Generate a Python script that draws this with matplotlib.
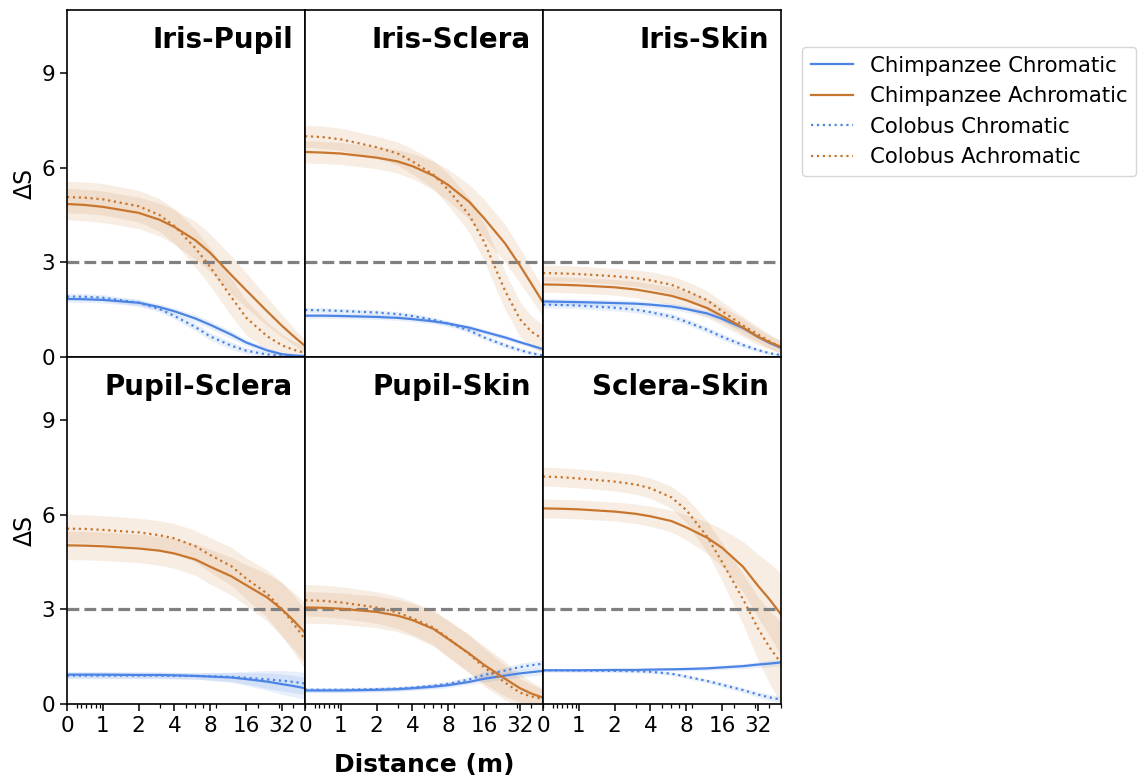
import matplotlib
matplotlib.use("Agg")
import matplotlib.pyplot as plt
from matplotlib.ticker import FixedLocator, FixedFormatter
import numpy as np

distance = [0, 0.5, 1, 2, 3, 4, 6, 8, 12, 16, 24, 32, 40, 50]

panel_names = ["Iris-Pupil", "Iris-Sclera", "Iris-Skin",
               "Pupil-Sclera", "Pupil-Skin", "Sclera-Skin"]

# Iris-Pupil
ip_chimp_chr = [1.84, 1.83, 1.81, 1.72, 1.58, 1.45, 1.22, 1.02, 0.71, 0.46, 0.21, 0.09, 0.05, 0.03]
ip_chimp_ach = [4.85, 4.82, 4.76, 4.57, 4.35, 4.12, 3.70, 3.30, 2.60, 2.12, 1.45, 0.99, 0.66, 0.35]
ip_colob_chr = [1.92, 1.91, 1.88, 1.72, 1.52, 1.30, 0.95, 0.65, 0.36, 0.20, 0.08, 0.04, 0.02, 0.01]
ip_colob_ach = [5.07, 5.05, 5.00, 4.78, 4.50, 4.15, 3.45, 2.85, 1.90, 1.25, 0.66, 0.37, 0.23, 0.13]
ip_hw_chr = [0.10, 0.10, 0.10, 0.10, 0.10, 0.10, 0.12, 0.12, 0.12, 0.10, 0.08, 0.05, 0.04, 0.03]
ip_hw_ach = [0.50, 0.50, 0.50, 0.50, 0.52, 0.55, 0.60, 0.60, 0.60, 0.55, 0.45, 0.35, 0.27, 0.20]

# Iris-Sclera
is_chimp_chr = [1.31, 1.31, 1.30, 1.27, 1.24, 1.20, 1.13, 1.06, 0.93, 0.80, 0.62, 0.47, 0.36, 0.25]
is_chimp_ach = [6.50, 6.48, 6.45, 6.32, 6.20, 6.05, 5.75, 5.45, 4.92, 4.40, 3.60, 2.90, 2.32, 1.73]
is_colob_chr = [1.49, 1.48, 1.46, 1.41, 1.36, 1.30, 1.18, 1.06, 0.84, 0.62, 0.37, 0.22, 0.12, 0.05]
is_colob_ach = [7.00, 6.97, 6.90, 6.65, 6.45, 6.20, 5.78, 5.30, 4.50, 3.65, 2.10, 1.20, 0.80, 0.57]
is_hw_chr = [0.08, 0.08, 0.08, 0.08, 0.08, 0.08, 0.08, 0.08, 0.08, 0.08, 0.08, 0.07, 0.06, 0.05]
is_hw_ach = [0.35, 0.35, 0.35, 0.35, 0.37, 0.40, 0.45, 0.50, 0.55, 0.60, 0.60, 0.55, 0.50, 0.45]

# Iris-Skin
ik_chimp_chr = [1.76, 1.75, 1.74, 1.71, 1.69, 1.66, 1.60, 1.52, 1.38, 1.21, 0.92, 0.64, 0.45, 0.29]
ik_chimp_ach = [2.30, 2.29, 2.27, 2.21, 2.14, 2.06, 1.94, 1.80, 1.55, 1.30, 0.93, 0.64, 0.47, 0.32]
ik_colob_chr = [1.66, 1.65, 1.63, 1.56, 1.50, 1.42, 1.28, 1.12, 0.86, 0.64, 0.38, 0.22, 0.12, 0.06]
ik_colob_ach = [2.66, 2.65, 2.63, 2.56, 2.50, 2.43, 2.29, 2.10, 1.80, 1.45, 1.00, 0.72, 0.50, 0.30]
ik_hw_chr = [0.10, 0.10, 0.10, 0.10, 0.10, 0.10, 0.10, 0.10, 0.10, 0.10, 0.08, 0.06, 0.05, 0.04]
ik_hw_ach = [0.25, 0.25, 0.25, 0.25, 0.26, 0.27, 0.28, 0.30, 0.30, 0.30, 0.28, 0.25, 0.22, 0.20]

# Pupil-Sclera
ps_chimp_chr = [0.93, 0.93, 0.93, 0.92, 0.92, 0.91, 0.89, 0.87, 0.84, 0.79, 0.71, 0.63, 0.57, 0.50]
ps_chimp_ach = [5.03, 5.02, 5.00, 4.93, 4.86, 4.77, 4.58, 4.35, 4.05, 3.77, 3.38, 3.00, 2.65, 2.26]
ps_colob_chr = [0.90, 0.90, 0.90, 0.90, 0.90, 0.89, 0.89, 0.88, 0.86, 0.83, 0.78, 0.74, 0.70, 0.65]
ps_colob_ach = [5.56, 5.55, 5.52, 5.44, 5.35, 5.25, 5.00, 4.72, 4.37, 3.98, 3.50, 3.00, 2.55, 2.05]
ps_hw_chr = [0.10, 0.10, 0.10, 0.10, 0.10, 0.10, 0.10, 0.12, 0.15, 0.20, 0.28, 0.32, 0.34, 0.35]
ps_hw_ach = [0.45, 0.45, 0.45, 0.45, 0.46, 0.47, 0.50, 0.55, 0.60, 0.65, 0.75, 0.85, 0.90, 0.95]

# Pupil-Skin
pk_chimp_chr = [0.43, 0.43, 0.43, 0.45, 0.47, 0.50, 0.55, 0.60, 0.70, 0.80, 0.90, 0.97, 1.01, 1.05]
pk_chimp_ach = [3.06, 3.05, 3.02, 2.92, 2.80, 2.66, 2.38, 2.06, 1.60, 1.24, 0.80, 0.50, 0.33, 0.20]
pk_colob_chr = [0.45, 0.45, 0.45, 0.47, 0.49, 0.52, 0.58, 0.64, 0.78, 0.92, 1.06, 1.17, 1.23, 1.28]
pk_colob_ach = [3.29, 3.27, 3.22, 3.06, 2.90, 2.72, 2.42, 2.08, 1.58, 1.16, 0.68, 0.36, 0.24, 0.16]
pk_hw_chr = [0.07, 0.07, 0.07, 0.07, 0.07, 0.07, 0.08, 0.08, 0.09, 0.10, 0.11, 0.12, 0.12, 0.12]
pk_hw_ach = [0.50, 0.50, 0.50, 0.50, 0.51, 0.52, 0.55, 0.58, 0.60, 0.60, 0.55, 0.45, 0.38, 0.30]

# Sclera-Skin
sk_chimp_chr = [1.07, 1.07, 1.07, 1.08, 1.08, 1.09, 1.10, 1.11, 1.13, 1.16, 1.20, 1.25, 1.28, 1.32]
sk_chimp_ach = [6.20, 6.19, 6.17, 6.10, 6.03, 5.95, 5.80, 5.60, 5.27, 4.95, 4.35, 3.75, 3.32, 2.84]
sk_colob_chr = [1.07, 1.07, 1.06, 1.05, 1.04, 1.02, 0.96, 0.87, 0.73, 0.61, 0.44, 0.30, 0.21, 0.14]
sk_colob_ach = [7.21, 7.19, 7.15, 7.05, 6.96, 6.84, 6.55, 6.15, 5.30, 4.50, 3.32, 2.40, 1.80, 1.30]
sk_hw_chr = [0.05, 0.05, 0.05, 0.05, 0.05, 0.05, 0.05, 0.06, 0.06, 0.07, 0.08, 0.09, 0.10, 0.10]
sk_hw_ach = [0.30, 0.30, 0.30, 0.30, 0.31, 0.32, 0.35, 0.40, 0.50, 0.60, 0.80, 1.00, 1.15, 1.30]

xticks = [0, 1, 2, 4, 8, 16, 32]
xtick_labels = ["0", "1", "2", "4", "8", "16", "32"]
xminor = [0.27, 0.4, 0.53, 0.67, 0.8, 0.92, 3, 5, 6, 7, 9, 20, 30, 40, 50]
yticks = [0, 3, 6, 9]

BLUE = "#4C84E6"
ORANGE = "#C8762E"

panels = [
    (ip_chimp_chr, ip_chimp_ach, ip_colob_chr, ip_colob_ach, ip_hw_chr, ip_hw_ach),
    (is_chimp_chr, is_chimp_ach, is_colob_chr, is_colob_ach, is_hw_chr, is_hw_ach),
    (ik_chimp_chr, ik_chimp_ach, ik_colob_chr, ik_colob_ach, ik_hw_chr, ik_hw_ach),
    (ps_chimp_chr, ps_chimp_ach, ps_colob_chr, ps_colob_ach, ps_hw_chr, ps_hw_ach),
    (pk_chimp_chr, pk_chimp_ach, pk_colob_chr, pk_colob_ach, pk_hw_chr, pk_hw_ach),
    (sk_chimp_chr, sk_chimp_ach, sk_colob_chr, sk_colob_ach, sk_hw_chr, sk_hw_ach),
]

fig, axes = plt.subplots(2, 3, figsize=(11.46, 7.81), dpi=100, sharex=True, sharey=True)
fig.subplots_adjust(left=67 / 1146, right=781 / 1146, bottom=1 - 704 / 781,
                    top=1 - 10 / 781, wspace=0, hspace=0)

x = np.array(distance)
for i, ax in enumerate(axes.flat):
    chimp_chr, chimp_ach, colob_chr, colob_ach, hw_chr, hw_ach = [np.array(a) for a in panels[i]]

    # confidence bands
    for vals, hw, col in [(chimp_ach, hw_ach, ORANGE), (colob_ach, hw_ach, ORANGE),
                          (chimp_chr, hw_chr, BLUE), (colob_chr, hw_chr, BLUE)]:
        ax.fill_between(x, vals - hw, vals + hw, color=col, alpha=0.13, linewidth=0)

    ax.axhline(3, color="gray", linestyle="--", linewidth=2.3, zorder=1)

    ax.plot(x, chimp_chr, color=BLUE, lw=1.6, label="Chimpanzee Chromatic")
    ax.plot(x, chimp_ach, color=ORANGE, lw=1.6, label="Chimpanzee Achromatic")
    ax.plot(x, colob_chr, color=BLUE, lw=1.6, ls=":", label="Colobus Chromatic")
    ax.plot(x, colob_ach, color=ORANGE, lw=1.6, ls=":", label="Colobus Achromatic")

    ax.text(0.95, 0.955, panel_names[i], transform=ax.transAxes, ha="right", va="top",
            fontsize=20, fontweight="bold")

    ax.set_xscale("symlog", base=2, linthresh=1, linscale=0.5)
    ax.set_xlim(0, 50)
    ax.set_ylim(0, 11)
    for s in ax.spines.values():
        s.set_linewidth(1.2)

    row, col = divmod(i, 3)
    if col == 0:
        ax.set_ylabel("ΔS", fontsize=17, labelpad=3)
    else:
        ax.tick_params(axis="y", left=False)
    if row == 0:
        ax.tick_params(axis="x", which="both", bottom=False)

ax0 = axes[1, 0]
ax0.xaxis.set_major_locator(FixedLocator(xticks))
ax0.xaxis.set_major_formatter(FixedFormatter(xtick_labels))
ax0.xaxis.set_minor_locator(FixedLocator(xminor))
ax0.set_yticks(yticks)
for ax in axes.flat:
    ax.tick_params(axis="both", which="major", labelsize=15.5, length=5, width=1.1)
    ax.tick_params(axis="x", which="minor", length=3, width=0.9)

fig.text(424 / 1146, 1 - 765 / 781, "Distance (m)", ha="center", va="center",
         fontsize=18, fontweight="bold")

handles, labels = axes[0, 0].get_legend_handles_labels()
fig.legend(handles, labels, loc="upper left", bbox_to_anchor=(802 / 1146, 1 - 47 / 781),
           borderaxespad=0, fontsize=15.3)

fig.savefig("out.png", dpi=100)
